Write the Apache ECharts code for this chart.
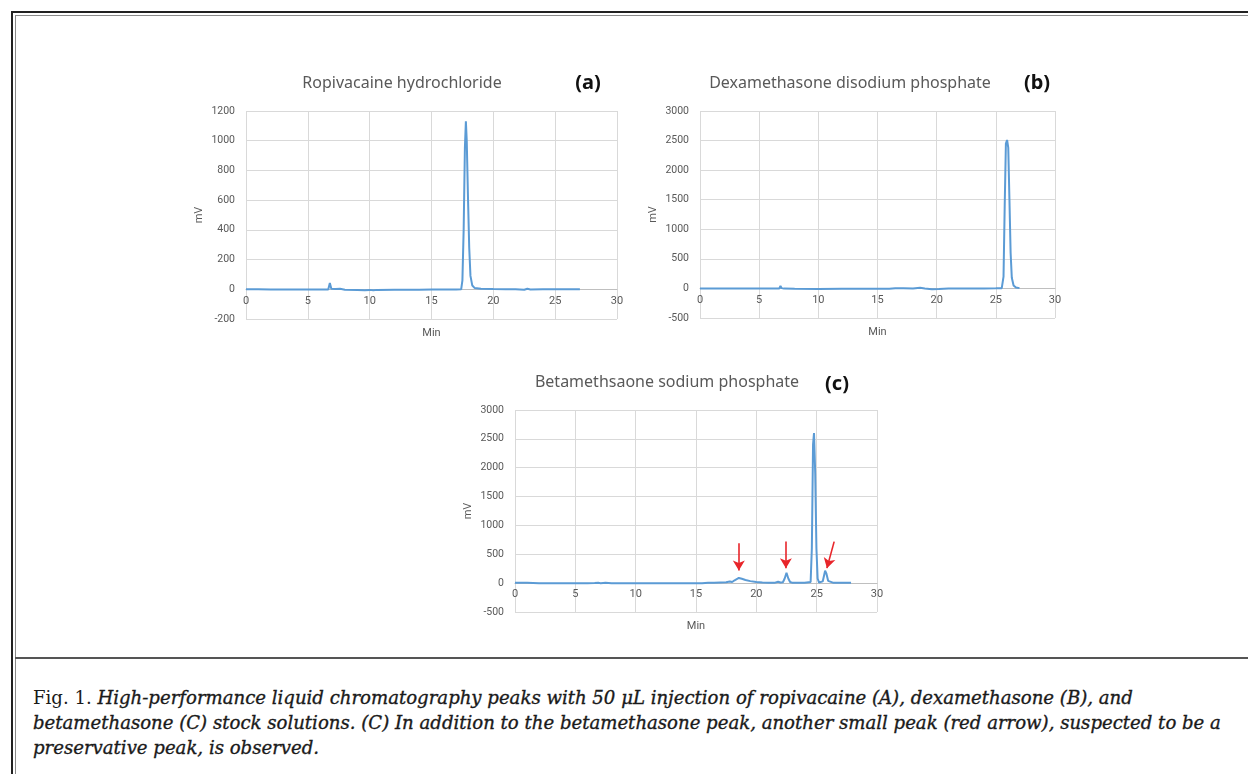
<!DOCTYPE html>
<html>
<head>
<meta charset="utf-8">
<script src="https://cdn.jsdelivr.net/npm/echarts@6/dist/echarts.min.js"></script>
<style>
  body { margin: 0; background: #fff; width: 1248px; height: 774px; overflow: hidden; position: relative; }
  #chart { position: absolute; left: 0; top: 0; width: 1248px; height: 650px; }
  .frameOuter { position: absolute; left: 11px; top: 11px; width: 1400px; height: 900px; border-left: 2px solid #222; border-top: 2px solid #222; }
  .frameInner { position: absolute; left: 15px; top: 15px; width: 1400px; height: 900px; border-left: 1px solid #8a8a8a; border-top: 1px solid #8a8a8a; }
  .divider { position: absolute; left: 15px; top: 657px; width: 1400px; height: 2px; background: #555; }
  .caption { position: absolute; left: 33px; top: 685px; font-family: "DejaVu Serif", "Liberation Serif", serif; font-size: 18.1px; line-height: 25px; color: #1a1a1a; white-space: nowrap; }
  .caption i { font-style: italic; font-weight: normal; -webkit-text-stroke: 0.35px #1a1a1a; }
</style>
</head>
<body>
<div class="frameOuter"></div>
<div class="frameInner"></div>
<div class="divider"></div>
<div id="chart"></div>
<div class="caption">Fig. 1. <i>High-performance liquid chromatography peaks with 50 μL injection of ropivacaine (A), dexamethasone (B), and</i><br><i>betamethasone (C) stock solutions. (C) In addition to the betamethasone peak, another small peak (red arrow), suspected to be a</i><br><i>preservative peak, is observed.</i></div>
<script>
// retention time (min) and detector signal (mV)
var timeA = [0, 1, 2, 3, 4, 5, 6, 6.65, 6.78, 6.9, 7.05, 7.25, 7.4, 7.6, 8, 9, 9.6, 10, 10.3, 10.6, 12, 14, 15, 16, 17, 17.4, 17.5, 17.6, 17.7, 17.78, 17.85, 17.95, 18.05, 18.15, 18.3, 18.5, 19, 20, 21, 21.45, 21.6, 21.8, 22.5, 22.75, 23, 24, 25, 26, 27];
var mvA = [0, 0, -1, -2, -2, -2, -2, -1, 42, 4, -3, 2, 10, 3, -3, -4, -6, -4, -7, -4, -3, -3, -2, -2, -1, 0, 60, 400, 950, 1130, 1000, 620, 280, 90, 25, 8, 4, 2, 1, 0, 12, 1, -3, 4, -1, 0, 0, 0, 0];

var timeB = [0, 2, 4, 6, 6.7, 6.8, 6.9, 7.1, 8, 10, 12, 14, 16, 16.5, 17.2, 18, 18.6, 19, 19.6, 20.2, 21, 22, 24, 25, 25.5, 25.65, 25.75, 25.85, 25.95, 26.05, 26.15, 26.25, 26.35, 26.5, 26.7, 27];
var mvB = [0, 0, -2, -2, 0, 40, 5, -3, -5, -8, -6, -5, -5, 5, 5, -3, 10, 0, -12, -8, 0, 0, 0, 2, 5, 200, 1400, 2450, 2510, 2380, 1500, 600, 180, 50, 15, 5];

var timeC = [0, 1, 2, 4, 6, 6.6, 6.75, 6.9, 7.1, 7.5, 8, 10, 12, 14, 15.5, 16, 16.5, 17, 17.5, 17.8, 18, 18.2, 18.35, 18.55, 18.8, 19.1, 19.5, 20, 20.5, 21, 21.5, 21.8, 22, 22.2, 22.35, 22.5, 22.65, 22.8, 23, 23.5, 24, 24.5, 24.6, 24.7, 24.78, 24.88, 24.98, 25.08, 25.2, 25.5, 25.6, 25.7, 25.8, 25.95, 26.1, 26.4, 27, 27.85];
var mvC = [5, 5, 0, 0, 0, 2, 30, 5, 0, 5, 0, -2, -2, -2, 0, 8, 5, 10, 15, 30, 20, 50, 80, 90, 75, 55, 35, 20, 10, 5, 5, 25, 10, 15, 80, 180, 80, 20, 5, 5, 5, 20, 600, 2400, 2600, 1900, 600, 80, 10, 30, 120, 215, 170, 40, 10, 5, 5, 5];

// red arrows in (c): tail -> head, in (min, mV)
var arrowTails = [[18.55, 690], [22.45, 720], [26.45, 720]];
var arrowHeads = [[18.55, 220], [22.45, 260], [25.85, 260]];

var titles = ['Ropivacaine hydrochloride', 'Dexamethasone disodium phosphate', 'Betamethsaone sodium phosphate'];
var panelTags = ['(a)', '(b)', '(c)'];
var xTicks = [0, 30, 5];
var yTicksA = [-200, 1200, 200];
var yTicksBC = [-500, 3000, 500];

function zip(xs, ys) {
  var out = [];
  for (var i = 0; i < xs.length; i++) out.push([xs[i], ys[i]]);
  return out;
}

var chart = echarts.init(document.getElementById('chart'));
var labelColor = '#595959';
var gridColor = '#d9d9d9';
var font = 'Roboto, "Noto Sans", sans-serif';

var grids = [
  { left: 246, top: 111, width: 371, height: 208 },
  { left: 700, top: 111, width: 355, height: 207 },
  { left: 515, top: 410, width: 362, height: 202 }
];
var yRanges = [yTicksA, yTicksBC, yTicksBC];

// the x axis sits on the 0 mV line, labels included
function xAxisFor(idx) {
  var r = yRanges[idx];
  var lift = grids[idx].height * (0 - r[0]) / (r[1] - r[0]);
  return {
    type: 'value', gridIndex: idx, min: xTicks[0], max: xTicks[1], interval: xTicks[2],
    offset: -lift,
    name: 'Min', nameLocation: 'middle', nameGap: 38,
    nameTextStyle: { color: labelColor, fontSize: 11, fontFamily: font },
    axisLine: { show: true, onZero: false, lineStyle: { color: '#bfbfbf', width: 1 } },
    axisTick: { show: false },
    axisLabel: { color: labelColor, fontSize: 11, fontFamily: font, margin: 6 },
    splitLine: { show: true, lineStyle: { color: gridColor, width: 1 } }
  };
}
function yAxisFor(idx, ticks) {
  return {
    type: 'value', gridIndex: idx, min: ticks[0], max: ticks[1], interval: ticks[2],
    name: 'mV', nameLocation: 'middle', nameGap: 41,
    nameTextStyle: { color: labelColor, fontSize: 11, fontFamily: font },
    axisLine: { show: false },
    axisTick: { show: false },
    axisLabel: { color: labelColor, fontSize: 10.5, fontFamily: font, margin: 11,
      formatter: function (v) { return String(v); } },
    splitLine: { show: true, lineStyle: { color: gridColor, width: 1 } }
  };
}
function lineSeries(idx, data) {
  return {
    type: 'line', xAxisIndex: idx, yAxisIndex: idx, data: data,
    showSymbol: false, smooth: false,
    lineStyle: { color: '#5b9bd5', width: 2 },
    itemStyle: { color: '#5b9bd5' }
  };
}

var titlePos = [[402, 83], [850, 83], [667, 382]];
var tagPos = [[588, 83], [1037, 83], [837, 384]];
var graphics = [];
for (var i = 0; i < 3; i++) {
  graphics.push({ type: 'text', x: titlePos[i][0], y: titlePos[i][1],
    style: { text: titles[i], align: 'center', verticalAlign: 'middle', fontSize: 16, fontFamily: '"Noto Sans", sans-serif', fill: labelColor } });
  graphics.push({ type: 'text', x: tagPos[i][0], y: tagPos[i][1],
    style: { text: panelTags[i], align: 'center', verticalAlign: 'middle', fontSize: 20, fontWeight: 'bold', fontFamily: '"Noto Sans", sans-serif', fill: '#111' } });
}

var arrowLines = [];
for (var k = 0; k < arrowTails.length; k++) {
  arrowLines.push([{ coord: arrowTails[k] }, { coord: arrowHeads[k] }]);
}

var seriesC = lineSeries(2, zip(timeC, mvC));
seriesC.markLine = {
  silent: true, animation: false,
  symbol: ['none', 'arrow'], symbolSize: [9, 10],
  label: { show: false },
  lineStyle: { color: '#e8252a', width: 1.6, type: 'solid' },
  data: arrowLines
};

var option = {
  animation: false,
  graphic: graphics,
  grid: grids,
  xAxis: [xAxisFor(0), xAxisFor(1), xAxisFor(2)],
  yAxis: [yAxisFor(0, yTicksA), yAxisFor(1, yTicksBC), yAxisFor(2, yTicksBC)],
  series: [
    lineSeries(0, zip(timeA, mvA)),
    lineSeries(1, zip(timeB, mvB)),
    seriesC
  ]
};
chart.setOption(option);
</script>
</body>
</html>
